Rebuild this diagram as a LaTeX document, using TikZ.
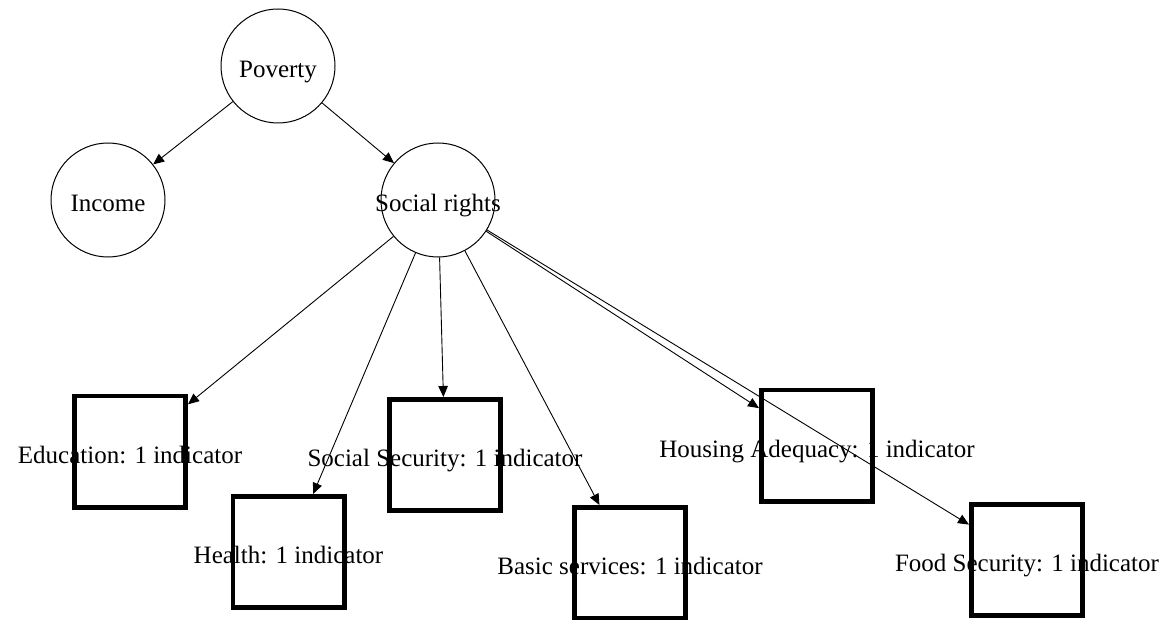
\documentclass[tikz,border=0pt]{standalone}
\usepackage{fontspec}
\setmainfont{Liberation Serif}
\usetikzlibrary{arrows.meta}
\tikzset{
  x=1pt, y=-1pt,
  lab/.style={font=\fontsize{25}{30}\selectfont, text height=23pt, text depth=0pt, inner sep=0pt},
  topic/.style={circle, draw=black, line width=1pt, minimum size=114pt, lab},
  indbox/.style={rectangle, draw=black, line width=4.6pt, minimum width=111.4pt, minimum height=111.4pt, lab},
  edge/.style={line width=0.9pt, -{Triangle[length=11pt,width=9.5pt]}}
}
\begin{document}
\begin{tikzpicture}
\useasboundingbox (0,0) rectangle (1161,620);
\node[topic] (pov) at (278,66) {\makebox[0pt]{Poverty}};
\node[topic] (inc) at (108,200) {\makebox[0pt]{Income}};
\node[topic] (soc) at (438,200) {\makebox[0pt]{Social rights}};
\node[indbox] (edu) at (130,451.5) {\makebox[0pt]{Education: 1 indicator}};
\node[indbox] (hea) at (288.5,552) {\makebox[0pt]{Health: 1 indicator}};
\node[indbox] (ss) at (445,455) {\makebox[0pt]{Social Security: 1 indicator}};
\node[indbox] (bs) at (630,563) {\makebox[0pt]{Basic services: 1 indicator}};
\node[indbox] (ha) at (817,445.5) {\makebox[0pt]{Housing Adequacy: 1 indicator}};
\node[indbox] (fs) at (1027,560) {\makebox[0pt]{Food Security: 1 indicator}};
\draw[edge] (pov) -- (inc);
\draw[edge] (pov) -- (soc);
\draw[edge] (soc) -- (edu);
\draw[edge] (soc) -- (hea);
\draw[edge] (soc) -- (ss);
\draw[edge] (soc) -- (bs);
\draw[edge] (soc) -- (ha);
\draw[edge] (soc) -- (fs);
\end{tikzpicture}
\end{document}
